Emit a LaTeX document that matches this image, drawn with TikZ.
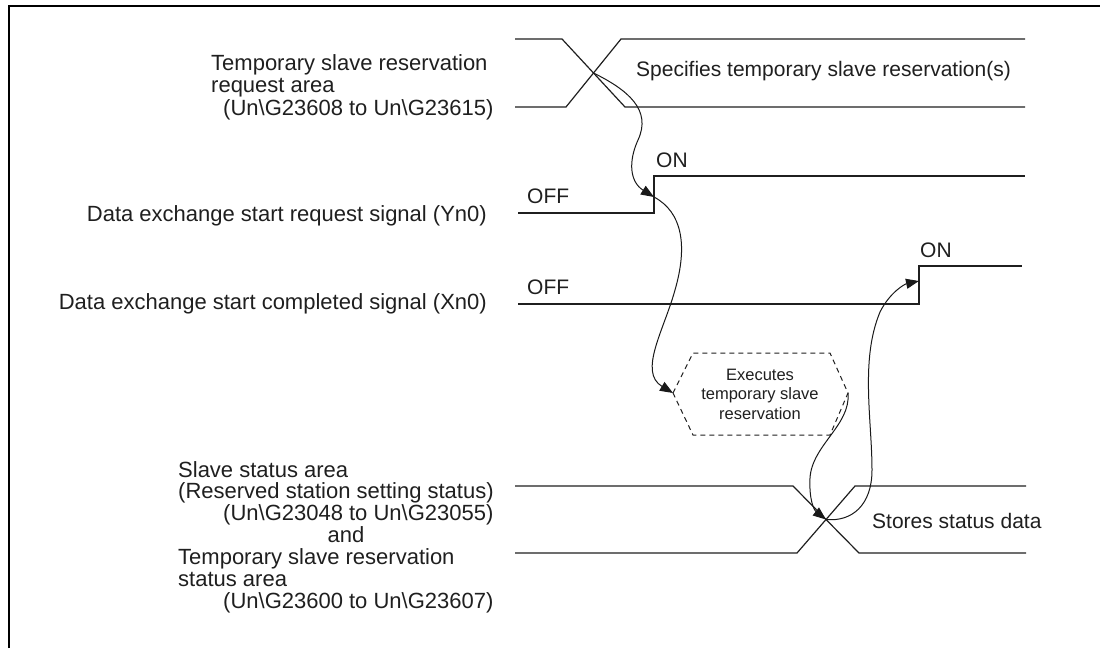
\documentclass[tikz,border=0pt]{standalone}
\usepackage{fontspec}
\setmainfont{Liberation Sans}
\usetikzlibrary{arrows.meta}
\begin{document}
\begin{tikzpicture}[x=1pt,y=-1pt,
  sig/.style={line width=1.2pt, draw=black!88},
  flow/.style={line width=1pt, draw=black!90, -{Triangle[length=13pt,width=10pt]}},
  lbl/.style={inner sep=0pt, font=\fontsize{21}{22.5}\selectfont, text=black!88},
  lft/.style={inner sep=0pt, font=\fontsize{22}{24}\selectfont, text=black!88},
  small/.style={inner sep=0pt, font=\fontsize{16.5}{19.5}\selectfont, text=black!88, align=center}]
\useasboundingbox (0,0) rectangle (1100,648);
\draw[line width=2.5pt] (9,648) -- (9,6) -- (1100,6);

% bus 1
\draw[sig] (515,39) -- (562,39) -- (625,107) -- (1025,107);
\draw[sig] (515,107) -- (566,107) -- (621,39) -- (1025,39);
\coordinate (c1) at (593.5,73);
% Yn0
\draw[sig] (518,213) -- (654,213) -- (654,176) -- (1025,176);
\coordinate (yst) at (654,197);
% Xn0
\draw[sig] (518,304) -- (919,304) -- (919,266) -- (1022,266);
\coordinate (xst) at (919,281);
% bus 2
\draw[sig] (515,486) -- (793,486) -- (859,553) -- (1026,553);
\draw[sig] (515,553) -- (797,553) -- (855,486) -- (1026,486);
\coordinate (c2) at (826,519.5);

% hexagon
\coordinate (hl) at (673,393);
\coordinate (hr) at (848,393);
\draw[line width=1pt, draw=black!88, dash pattern=on 5pt off 4pt]
  (hl) -- (693,353) -- (830,353) -- (hr) -- (830,435) -- (693,435) -- cycle;
\node[small] (hex) at (760,394) {Executes\\temporary slave\\reservation};

% labels
\node[lft, anchor=base west] (t1a) at (211,70) {Temporary slave reservation};
\node[lft, anchor=base west] (t1b) at (211,92) {request area};
\node[lft, anchor=base west] (t1c) at (223,115) {(Un\textbackslash G23608 to Un\textbackslash G23615)};
\node[lbl, anchor=base west] (spec) at (636,76) {Specifies temporary slave reservation(s)};

\node[lft, anchor=base east] (yn0) at (487,221) {Data exchange start request signal (Yn0)};
\node[lbl, anchor=base west] (yoff) at (527,203) {OFF};
\node[lbl, anchor=base west] (yon) at (656,167) {ON};

\node[lft, anchor=base east] (xn0) at (487,309) {Data exchange start completed signal (Xn0)};
\node[lbl, anchor=base west] (xoff) at (527,294) {OFF};
\node[lbl, anchor=base west] (xon) at (920,257) {ON};

\node[lft, anchor=base west] (s1) at (178,477) {Slave status area};
\node[lft, anchor=base west] (s2) at (178,498) {(Reserved station setting status)};
\node[lft, anchor=base west] (s3) at (223,520) {(Un\textbackslash G23048 to Un\textbackslash G23055)};
\node[lft, anchor=base] (and) at (346,542) {and};
\node[lft, anchor=base west] (s4) at (178,564) {Temporary slave reservation};
\node[lft, anchor=base west] (s5) at (178,586) {status area};
\node[lft, anchor=base west] (s6) at (223,608) {(Un\textbackslash G23600 to Un\textbackslash G23607)};
\node[lbl, anchor=base west] (store) at (872,528) {Stores status data};

% flow arrows
\draw[flow] (c1) .. controls (628,90) and (652,110) .. (638,140)
  .. controls (628,162) and (630,182) .. (yst);
\draw[flow] (yst) .. controls (682,212) and (688,245) .. (675,290)
  .. controls (664,330) and (638,372) .. (hl);
\draw[flow] (hr) .. controls (851,425) and (812,445) .. (810,478)
  .. controls (809,500) and (814,510) .. (c2);
\draw[flow] (c2) .. controls (852,522) and (872,505) .. (872,470)
  .. controls (872,420) and (860,360) .. (880,312)
  .. controls (890,292) and (905,284) .. (xst);
\end{tikzpicture}
\end{document}
